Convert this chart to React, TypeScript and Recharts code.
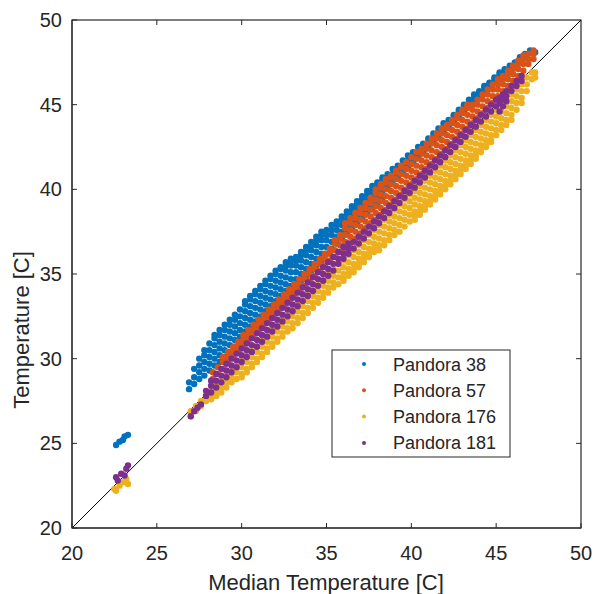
import { ReferenceLine, Scatter, ScatterChart, XAxis, YAxis } from "recharts";

const axisTicks = [20, 25, 30, 35, 40, 45, 50];
const seriesNames = ["Pandora 38", "Pandora 57", "Pandora 176", "Pandora 181"];
const seriesColors = ["#0072BD", "#D95319", "#EDB120", "#7E2F8E"];

// each row: [median temperature, ...sensor temperatures read at that median]
const pandora38Rows = [
  [22.6, 24.9], [22.8, 25.1], [23.0, 25.2], [23.1, 25.4], [23.3, 25.5],
  [26.9, 28.2, 28.6], [27.2, 28.5, 28.9, 29.4], [27.5, 28.8, 29.2, 29.6, 30.0],
  [27.8, 29.0, 29.4, 29.8, 30.2, 30.5], [28.1, 29.3, 29.7, 30.1, 30.5, 30.9],
  [28.4, 29.6, 30.0, 30.4, 30.8, 31.2, 31.4], [28.7, 29.8, 30.2, 30.6, 31.0, 31.4, 31.7],
  [29.0, 30.1, 30.5, 30.9, 31.3, 31.7, 32.0], [29.3, 30.4, 30.8, 31.2, 31.6, 32.0, 32.3],
  [29.6, 30.7, 31.1, 31.5, 31.9, 32.3, 32.6], [29.9, 30.9, 31.3, 31.7, 32.1, 32.5, 32.9],
  [30.2, 31.2, 31.6, 32.0, 32.4, 32.8, 33.2, 33.4], [30.5, 31.5, 31.9, 32.3, 32.7, 33.1, 33.5, 33.7],
  [30.8, 31.8, 32.2, 32.6, 33.0, 33.4, 33.8, 34.0], [31.1, 32.1, 32.5, 32.9, 33.3, 33.7, 34.1, 34.3],
  [31.4, 32.4, 32.8, 33.2, 33.6, 34.0, 34.4, 34.6], [31.7, 32.7, 33.1, 33.5, 33.9, 34.3, 34.7, 34.9],
  [32.0, 33.0, 33.4, 33.8, 34.2, 34.6, 35.0, 35.2], [32.3, 33.3, 33.7, 34.1, 34.5, 34.9, 35.3, 35.4],
  [32.6, 33.6, 34.0, 34.4, 34.8, 35.2, 35.5, 35.7], [32.9, 33.9, 34.3, 34.7, 35.1, 35.5, 35.8, 35.9],
  [33.2, 34.3, 34.7, 35.1, 35.5, 35.8, 36.0], [33.5, 34.6, 35.0, 35.4, 35.8, 36.1, 36.3],
  [33.8, 34.9, 35.3, 35.7, 36.1, 36.4, 36.6], [34.1, 35.2, 35.6, 36.0, 36.4, 36.7, 36.9],
  [34.4, 35.5, 35.9, 36.3, 36.7, 37.0, 37.2], [34.7, 35.8, 36.2, 36.6, 37.0, 37.3, 37.5],
  [35.0, 36.2, 36.6, 37.0, 37.3, 37.6], [35.3, 36.5, 36.9, 37.3, 37.6, 37.9],
  [35.6, 36.8, 37.2, 37.6, 37.9, 38.1], [35.9, 37.1, 37.5, 37.9, 38.2, 38.4],
  [36.2, 37.4, 37.8, 38.2, 38.5, 38.7], [36.5, 37.7, 38.1, 38.5, 38.8, 39.0],
  [36.8, 38.0, 38.4, 38.8, 39.1, 39.3], [37.1, 38.3, 38.7, 39.1, 39.4, 39.6],
  [37.4, 38.6, 39.0, 39.4, 39.7, 39.9], [37.7, 38.9, 39.3, 39.7, 40.0, 40.2],
  [38.0, 39.2, 39.6, 40.0, 40.3, 40.4], [38.3, 39.5, 39.9, 40.3, 40.6, 40.7],
  [38.6, 40.2, 40.6, 40.9], [38.9, 40.5, 40.9, 41.2], [39.2, 40.7, 41.1, 41.4], [39.5, 41.0, 41.4, 41.7],
  [39.8, 41.3, 41.7, 42.0], [40.1, 41.6, 41.9, 42.2], [40.4, 41.9, 42.2, 42.5], [40.7, 42.2, 42.5, 42.7],
  [41.0, 42.5, 42.8, 43.0], [41.3, 42.8, 43.1, 43.3], [41.6, 43.1, 43.4, 43.6], [41.9, 43.4, 43.7, 43.9],
  [42.2, 43.7, 44.0, 44.1], [42.5, 44.0, 44.3, 44.4], [42.8, 44.3, 44.6, 44.7], [43.1, 44.6, 44.9, 45.0],
  [43.4, 44.9, 45.2, 45.3], [43.7, 45.2, 45.4, 45.6], [44.0, 45.4, 45.7, 45.8], [44.3, 45.7, 46.0, 46.1],
  [44.6, 46.0, 46.2, 46.3], [44.9, 46.3, 46.5, 46.6], [45.2, 46.5, 46.8, 46.9], [45.5, 46.8, 47.0, 47.1],
  [45.8, 47.1, 47.3], [46.1, 47.4, 47.5], [46.4, 47.6, 47.8], [46.7, 47.9, 48.0], [47.0, 48.1, 48.2],
  [47.3, 48.1],
];

const pandora57Rows = [
  [28.3, 28.8, 29.2], [28.6, 29.1, 29.5], [28.9, 29.4, 29.8, 30.1], [29.2, 29.8, 30.1, 30.4],
  [29.5, 30.1, 30.4, 30.7], [29.8, 30.4, 30.7, 31.0], [30.1, 30.8, 31.1, 31.4], [30.4, 31.1, 31.4, 31.7],
  [30.7, 31.4, 31.7, 32.0], [31.0, 31.7, 32.0, 32.3], [31.3, 32.0, 32.3, 32.6], [31.6, 32.3, 32.6, 32.9],
  [31.9, 32.6, 32.9, 33.2], [32.2, 32.9, 33.2, 33.5], [32.5, 33.2, 33.5, 33.8], [32.8, 33.5, 33.8, 34.1],
  [33.1, 33.8, 34.1, 34.4], [33.4, 34.1, 34.4, 34.7], [33.7, 34.3, 34.7, 35.0], [34.0, 34.6, 35.0, 35.3],
  [34.3, 34.9, 35.3, 35.6], [34.6, 35.2, 35.6, 35.9], [34.9, 35.5, 35.9, 36.2], [35.2, 35.8, 36.2, 36.5],
  [35.5, 36.0, 36.4, 36.8, 37.0], [35.8, 36.3, 36.7, 37.1, 37.3],
  [36.1, 36.5, 36.9, 37.3, 37.7, 38.0], [36.4, 36.8, 37.2, 37.6, 38.0, 38.3],
  [36.7, 37.1, 37.5, 37.9, 38.3, 38.6], [37.0, 37.4, 37.8, 38.2, 38.6, 38.9],
  [37.3, 37.7, 38.1, 38.5, 38.9, 39.2], [37.6, 38.0, 38.4, 38.8, 39.2, 39.5],
  [37.9, 38.2, 38.6, 39.0, 39.4, 39.8, 40.0], [38.2, 38.5, 38.9, 39.3, 39.7, 40.1, 40.3],
  [38.5, 38.8, 39.2, 39.6, 40.0, 40.4, 40.6], [38.8, 39.1, 39.5, 39.9, 40.3, 40.7, 40.8],
  [39.1, 39.4, 39.8, 40.2, 40.6, 41.0, 41.1], [39.4, 39.7, 40.1, 40.5, 40.9, 41.3, 41.4],
  [39.7, 40.0, 40.4, 40.8, 41.2, 41.6], [40.0, 40.3, 40.7, 41.1, 41.5, 41.9],
  [40.3, 40.6, 41.0, 41.4, 41.8, 42.2], [40.6, 40.9, 41.3, 41.7, 42.1, 42.4],
  [40.9, 41.2, 41.6, 42.0, 42.4, 42.7], [41.2, 41.5, 41.9, 42.3, 42.7, 43.0],
  [41.5, 41.8, 42.2, 42.6, 43.0, 43.3], [41.8, 42.1, 42.5, 42.9, 43.3, 43.6],
  [42.1, 42.4, 42.8, 43.2, 43.6, 43.8], [42.4, 42.7, 43.1, 43.5, 43.9, 44.1],
  [42.7, 43.0, 43.4, 43.8, 44.2, 44.4], [43.0, 43.3, 43.7, 44.1, 44.5, 44.7],
  [43.3, 43.6, 44.0, 44.4, 44.8, 45.0], [43.6, 43.9, 44.3, 44.7, 45.0],
  [43.9, 44.2, 44.6, 45.0, 45.3], [44.2, 44.5, 44.9, 45.3, 45.6], [44.5, 44.8, 45.2, 45.6, 45.9],
  [44.8, 45.1, 45.5, 45.9, 46.2], [45.1, 45.5, 45.9, 46.2, 46.5], [45.4, 45.8, 46.2, 46.5, 46.7],
  [45.7, 46.1, 46.5, 46.8, 47.0], [46.0, 46.4, 46.8, 47.1, 47.3], [46.3, 46.7, 47.1, 47.4, 47.6],
  [46.6, 47.0, 47.4, 47.7, 47.9], [46.9, 47.4, 47.7, 48.0], [47.2, 47.7, 48.0, 48.2],
];

const pandora176Rows = [
  [22.5, 22.3], [22.6, 22.2], [22.8, 22.5], [23.0, 22.7], [23.2, 22.9], [23.3, 22.6],
  [27.0, 26.9, 26.6], [27.3, 27.2, 26.9], [27.6, 27.5, 27.2], [27.9, 27.8, 27.5],
  [28.2, 28.1, 27.8, 27.6], [28.5, 28.4, 28.1, 27.8], [28.8, 28.7, 28.3, 28.0], [29.1, 29.0, 28.6, 28.3],
  [29.4, 29.3, 28.9, 28.6], [29.7, 29.6, 29.2, 28.8],
  [30.0, 29.9, 29.5, 29.1, 28.9], [30.3, 30.2, 29.8, 29.4, 29.2], [30.6, 30.5, 30.1, 29.7, 29.5],
  [30.9, 30.8, 30.4, 30.0, 29.8], [31.2, 31.1, 30.7, 30.3, 30.1], [31.5, 31.4, 31.0, 30.6, 30.4],
  [31.8, 31.7, 31.3, 30.9, 30.7], [32.1, 32.0, 31.6, 31.2, 31.0], [32.4, 32.3, 31.9, 31.5, 31.3],
  [32.7, 32.6, 32.2, 31.8, 31.6], [33.0, 32.9, 32.5, 32.1, 31.8], [33.3, 33.2, 32.8, 32.4, 32.1],
  [33.6, 33.5, 33.1, 32.7, 32.4], [33.9, 33.8, 33.4, 33.0, 32.7], [34.2, 34.1, 33.7, 33.3, 33.0],
  [34.5, 34.4, 34.0, 33.6, 33.3], [34.8, 34.7, 34.3, 33.9, 33.6], [35.1, 35.0, 34.6, 34.2, 33.9],
  [35.4, 35.3, 34.9, 34.5, 34.2], [35.7, 35.6, 35.2, 34.8, 34.4],
  [36.0, 35.8, 35.4, 35.0, 34.7, 34.6], [36.3, 36.1, 35.7, 35.3, 35.0, 34.9],
  [36.6, 36.4, 36.0, 35.6, 35.3, 35.1], [36.9, 36.7, 36.3, 35.9, 35.6, 35.4],
  [37.2, 37.0, 36.6, 36.2, 35.9, 35.7], [37.5, 37.3, 36.9, 36.5, 36.2, 36.0],
  [37.8, 37.6, 37.2, 36.8, 36.5, 36.3], [38.1, 37.9, 37.5, 37.1, 36.7, 36.4],
  [38.4, 38.2, 37.8, 37.4, 37.0, 36.7], [38.7, 38.5, 38.1, 37.7, 37.3, 37.0],
  [39.0, 38.8, 38.4, 38.0, 37.6, 37.3], [39.3, 39.1, 38.7, 38.3, 37.9, 37.5],
  [39.6, 39.4, 39.0, 38.6, 38.2, 37.8], [39.9, 39.7, 39.3, 38.9, 38.5, 38.1],
  [40.2, 39.9, 39.5, 39.1, 38.7, 38.4, 38.2], [40.5, 40.2, 39.8, 39.4, 39.0, 38.7, 38.5],
  [40.8, 40.5, 40.1, 39.7, 39.3, 39.0, 38.8], [41.1, 40.8, 40.4, 40.0, 39.6, 39.3, 39.1],
  [41.4, 41.1, 40.7, 40.3, 39.9, 39.6, 39.4], [41.7, 41.4, 41.0, 40.6, 40.2, 39.9, 39.7],
  [42.0, 41.7, 41.3, 40.9, 40.5, 40.2, 40.0], [42.3, 42.0, 41.6, 41.2, 40.8, 40.5, 40.3],
  [42.6, 42.3, 41.9, 41.5, 41.1, 40.8, 40.6], [42.9, 42.6, 42.2, 41.8, 41.4, 41.1, 40.9],
  [43.2, 42.9, 42.5, 42.1, 41.7, 41.4, 41.2], [43.5, 43.2, 42.8, 42.4, 42.0, 41.7, 41.5],
  [43.8, 43.5, 43.1, 42.7, 42.3, 42.0, 41.8], [44.1, 43.8, 43.4, 43.0, 42.6, 42.3, 42.2],
  [44.4, 44.1, 43.7, 43.3, 42.9, 42.6, 42.5], [44.7, 44.4, 44.0, 43.6, 43.2, 42.9, 42.8],
  [45.0, 44.7, 44.3, 43.9, 43.5, 43.2], [45.3, 45.0, 44.6, 44.2, 43.8, 43.5],
  [45.6, 45.3, 44.9, 44.5, 44.1, 43.8], [45.9, 45.6, 45.2, 44.8, 44.4, 44.1],
  [46.2, 45.9, 45.5, 45.1, 44.7], [46.5, 46.2, 45.8, 45.4, 45.1], [46.8, 46.6, 46.2, 45.8],
  [47.1, 46.9, 46.5], [47.3, 46.9, 46.6],
];

const pandora181Rows = [
  [22.6, 23.0], [22.7, 22.8], [22.9, 23.2], [23.1, 23.1], [23.2, 23.5], [23.3, 23.7],
  [27.0, 26.6], [27.2, 26.9], [27.4, 27.1], [27.6, 27.3], [27.9, 27.8, 28.1],
  [28.2, 28.0, 28.4, 28.7], [28.5, 28.3, 28.7, 29.1], [28.8, 28.6, 29.0, 29.4], [29.1, 28.9, 29.3, 29.7],
  [29.4, 29.2, 29.6, 30.0], [29.7, 29.5, 29.9, 30.3], [30.0, 29.8, 30.2, 30.6], [30.3, 30.1, 30.5, 30.9],
  [30.6, 30.4, 30.8, 31.2], [30.9, 30.7, 31.1, 31.5], [31.2, 31.0, 31.4, 31.8], [31.5, 31.3, 31.7, 32.1],
  [31.8, 31.6, 32.0, 32.4], [32.1, 31.9, 32.3, 32.7], [32.4, 32.2, 32.6, 33.0], [32.7, 32.5, 32.9, 33.3],
  [33.0, 32.8, 33.2, 33.6], [33.3, 33.1, 33.5, 33.9], [33.6, 33.4, 33.8, 34.2], [33.9, 33.7, 34.1, 34.5],
  [34.2, 34.0, 34.4, 34.8], [34.5, 34.3, 34.7, 35.1], [34.8, 34.6, 35.0, 35.4], [35.1, 34.9, 35.3, 35.7],
  [35.4, 35.2, 35.6, 36.0], [35.7, 35.6, 35.9, 36.3], [36.0, 35.9, 36.2, 36.6], [36.3, 36.2, 36.5, 36.8],
  [36.6, 36.5, 36.9], [36.9, 36.8, 37.2], [37.2, 37.1, 37.5], [37.5, 37.4, 37.8], [37.8, 37.7, 38.1],
  [38.1, 38.0, 38.4], [38.4, 38.3, 38.7], [38.7, 38.6, 39.0], [39.0, 38.9, 39.3], [39.3, 39.2, 39.6],
  [39.6, 39.5, 39.9], [39.9, 39.8, 40.2], [40.2, 40.1, 40.5], [40.5, 40.4, 40.8], [40.8, 40.7, 41.1],
  [41.1, 41.0, 41.4], [41.4, 41.3, 41.7], [41.7, 41.6, 42.0], [42.0, 41.9, 42.3], [42.3, 42.2, 42.6],
  [42.6, 42.5, 42.9], [42.9, 42.8, 43.2], [43.2, 43.1, 43.5], [43.5, 43.4, 43.8], [43.8, 43.7, 44.1],
  [44.1, 44.0, 44.4], [44.4, 44.3, 44.7], [44.7, 44.6, 45.0], [45.0, 44.9, 45.3],
  [45.2, 45.1, 45.4, 44.6], [45.4, 45.3, 45.6, 44.9], [45.6, 45.5, 45.8, 45.2],
  [45.9, 45.8, 46.1], [46.2, 46.1, 46.4], [46.5, 46.4, 46.7],
];

const seriesRows = [pandora38Rows, pandora57Rows, pandora176Rows, pandora181Rows];

const toPoints = (rows: number[][]) => rows.flatMap(([x, ...ys]) => ys.map((y) => ({ x, y })));

const ink = "#262626";
const font = '"Liberation Sans", Arial, Helvetica, sans-serif';

// plot box, matches the chart margins + axis sizes below
const plot = { left: 72, top: 20, width: 509, height: 508 };
const axisMin = axisTicks[0];
const axisSpan = axisTicks[axisTicks.length - 1] - axisMin;

const dotShape = (color: string) => (props: any) => (
  <circle cx={props.cx} cy={props.cy} r={3.2} fill={color} />
);

// box outline + inward ticks on top/right edges, then the legend
function Decorations() {
  const right = plot.left + plot.width;
  return (
    <g>
      <rect
        x={plot.left}
        y={plot.top}
        width={plot.width}
        height={plot.height}
        fill="none"
        stroke={ink}
        strokeWidth={1.2}
      />
      {axisTicks.slice(1, -1).map((t) => {
        const frac = (t - axisMin) / axisSpan;
        const tx = plot.left + frac * plot.width;
        const ty = plot.top + (1 - frac) * plot.height;
        return (
          <g key={t}>
            <rect x={tx - 0.5} y={plot.top} width={1} height={5} fill={ink} />
            <rect x={right - 5} y={ty - 0.5} width={5} height={1} fill={ink} />
          </g>
        );
      })}
      <rect x={332} y={350} width={178} height={107} fill="#fff" stroke={ink} strokeWidth={1} />
      {seriesNames.map((name, i) => (
        <g key={name}>
          <circle cx={364} cy={364 + i * 26.3} r={2} fill={seriesColors[i]} />
          <text x={393} y={370.5 + i * 26.3} fontSize={18} fill={ink} fontFamily={font}>
            {name}
          </text>
        </g>
      ))}
    </g>
  );
}

export default function App() {
  return (
    <div style={{ position: "absolute", left: 0, top: 0, width: 595, height: 594, fontFamily: font, background: "#fff" }}>
      <ScatterChart width={595} height={594} margin={{ top: 20, right: 14, bottom: 4, left: 0 }}>
        <XAxis
          type="number"
          dataKey="x"
          domain={[20, 50]}
          ticks={axisTicks}
          allowDataOverflow
          height={62}
          tickSize={-5}
          tickMargin={23}
          axisLine={{ stroke: ink }}
          tickLine={{ stroke: ink }}
          tick={{ fill: ink, fontSize: 20 }}
        />
        <YAxis
          type="number"
          dataKey="y"
          domain={[20, 50]}
          ticks={axisTicks}
          allowDataOverflow
          width={72}
          tickSize={-5}
          tickMargin={15}
          axisLine={{ stroke: ink }}
          tickLine={{ stroke: ink }}
          tick={{ fill: ink, fontSize: 20 }}
        />
        {seriesRows.map((rows, i) => (
          <Scatter
            key={seriesNames[i]}
            name={seriesNames[i]}
            data={toPoints(rows)}
            fill={seriesColors[i]}
            shape={dotShape(seriesColors[i])}
            isAnimationActive={false}
          />
        ))}
        <ReferenceLine
          segment={[
            { x: 20, y: 20 },
            { x: 50, y: 50 },
          ]}
          stroke="#000"
          strokeWidth={1}
        />
        <text x={326} y={590} textAnchor="middle" fontSize={22} fill={ink} fontFamily={font}>
          Median Temperature [C]
        </text>
        <text
          x={29}
          y={330}
          textAnchor="middle"
          fontSize={22}
          fill={ink}
          fontFamily={font}
          transform="rotate(-90 29 330)"
        >
          Temperature [C]
        </text>
        <Decorations />
      </ScatterChart>
    </div>
  );
}
